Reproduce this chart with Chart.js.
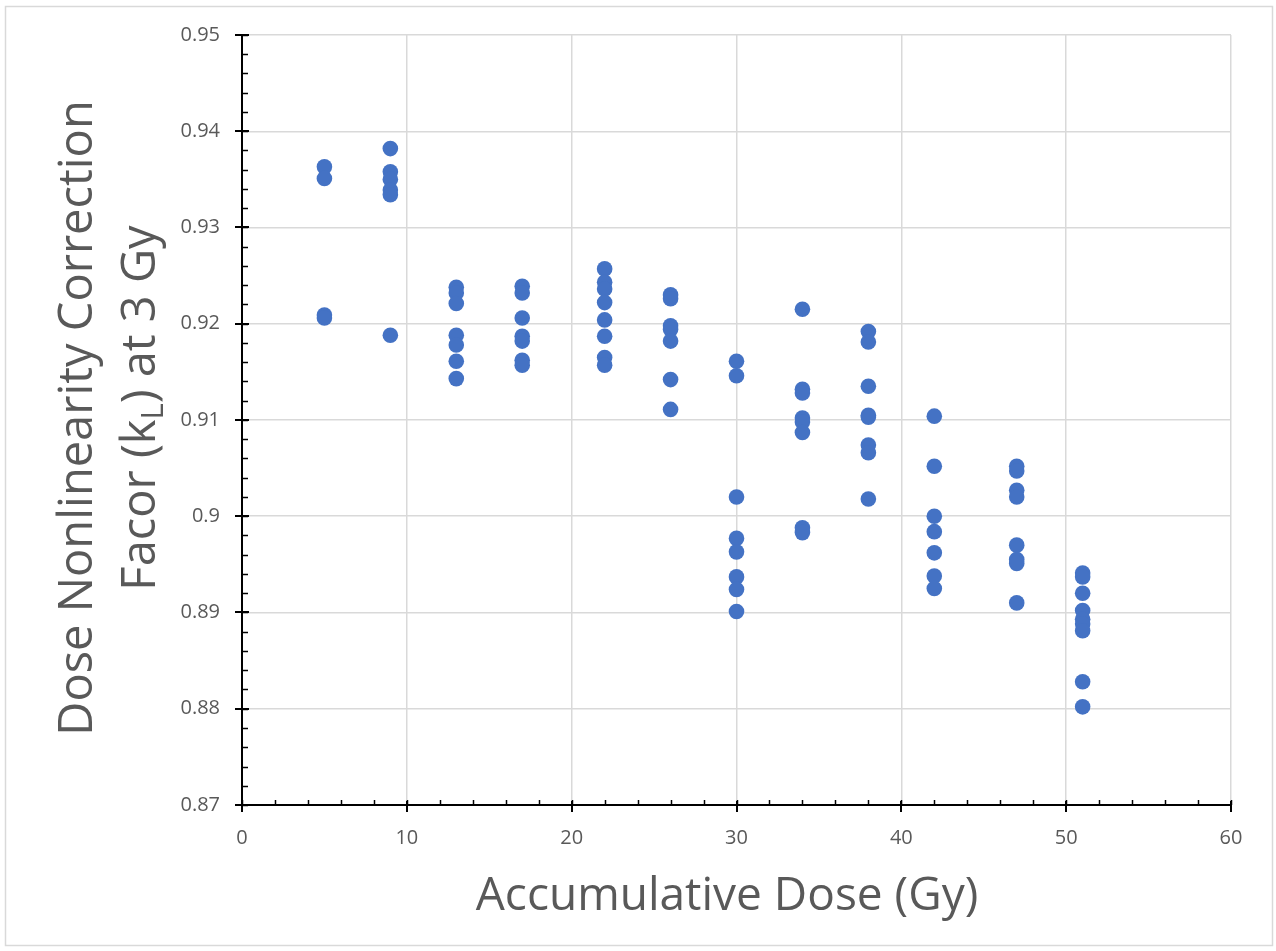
<!DOCTYPE html>
<html>
<head>
<meta charset="utf-8">
<script src="https://cdn.jsdelivr.net/npm/chart.js@4.4.1/dist/chart.umd.min.js"></script>
<style>
  html, body { margin: 0; padding: 0; background: #ffffff; }
  #wrap { width: 1276px; height: 951px; position: relative; }
</style>
</head>
<body>
<div id="wrap"><canvas id="c" width="1276" height="951"></canvas></div>
<script>
// ---- data ----
const doses = [5, 9, 13, 17, 22, 26, 30, 34, 38, 42, 47, 51];
const kL5  = [0.9363, 0.9351, 0.9209, 0.9206];
const kL9  = [0.9382, 0.9358, 0.9350, 0.9339, 0.9334, 0.9188];
const kL13 = [0.9238, 0.9232, 0.9221, 0.9188, 0.9178, 0.9161, 0.9143];
const kL17 = [0.9239, 0.9232, 0.9206, 0.9187, 0.9182, 0.9162, 0.9157];
const kL22 = [0.9257, 0.9243, 0.9236, 0.9222, 0.9204, 0.9187, 0.9165, 0.9157];
const kL26 = [0.9230, 0.9226, 0.9198, 0.9194, 0.9182, 0.9142, 0.9111];
const kL30 = [0.9161, 0.9146, 0.9020, 0.8977, 0.8963, 0.8937, 0.8924, 0.8901];
const kL34 = [0.9215, 0.9132, 0.9128, 0.9102, 0.9098, 0.9087, 0.8988, 0.8983];
const kL38 = [0.9192, 0.9181, 0.9135, 0.9105, 0.9103, 0.9074, 0.9066, 0.9018];
const kL42 = [0.9104, 0.9052, 0.9000, 0.8984, 0.8962, 0.8938, 0.8925];
const kL47 = [0.9052, 0.9047, 0.9027, 0.9020, 0.8970, 0.8955, 0.8951, 0.8910];
const kL51 = [0.8941, 0.8937, 0.8920, 0.8902, 0.8893, 0.8888, 0.8881, 0.8828, 0.8802];
const kLByDose = [kL5, kL9, kL13, kL17, kL22, kL26, kL30, kL34, kL38, kL42, kL47, kL51];

const xTickValues = [0, 10, 20, 30, 40, 50, 60];
const yTickValues = [0.87, 0.88, 0.89, 0.90, 0.91, 0.92, 0.93, 0.94, 0.95];
const xTitle = 'Accumulative Dose (Gy)';
const yTitleLine1 = 'Dose Nonlinearity Correction';
const yTitleLine2 = ['Facor (k', 'L', ') at 3 Gy'];

const points = [];
doses.forEach((d, i) => kLByDose[i].forEach(v => points.push({ x: d, y: v })));

const FONT = "'Open Sans', 'Noto Sans', sans-serif";
const TEXT = '#595959';

const decorPlugin = {
  id: 'decor',
  beforeDraw(chart) {
    const ctx = chart.ctx;
    ctx.save();
    ctx.fillStyle = '#ffffff';
    ctx.fillRect(0, 0, chart.width, chart.height);
    ctx.strokeStyle = '#d9d9d9';
    ctx.lineWidth = 1.5;
    ctx.strokeRect(5.5, 6.5, 1267, 939);
    ctx.restore();
  },
  afterDraw(chart) {
    const ctx = chart.ctx;
    const xs = chart.scales.x, ys = chart.scales.y;
    const a = chart.chartArea;
    ctx.save();
    ctx.strokeStyle = '#000000';
    ctx.lineWidth = 1.5;
    // minor ticks (inside)
    for (let v = 0; v <= 60.001; v += 2) {
      const px = Math.round(xs.getPixelForValue(v)) + 0.5;
      ctx.beginPath(); ctx.moveTo(px, a.bottom); ctx.lineTo(px, a.bottom - 5); ctx.stroke();
    }
    for (let v = 0.87; v <= 0.9501; v += 0.002) {
      const py = Math.round(ys.getPixelForValue(v)) + 0.5;
      ctx.beginPath(); ctx.moveTo(a.left, py); ctx.lineTo(a.left + 6, py); ctx.stroke();
    }
    // major ticks (cross)
    ctx.lineWidth = 2;
    xTickValues.forEach(v => {
      const px = Math.round(xs.getPixelForValue(v));
      ctx.beginPath(); ctx.moveTo(px, a.bottom - 4); ctx.lineTo(px, a.bottom + 7); ctx.stroke();
    });
    yTickValues.forEach(v => {
      const py = Math.round(ys.getPixelForValue(v));
      ctx.beginPath(); ctx.moveTo(a.left - 7, py); ctx.lineTo(a.left + 7, py); ctx.stroke();
    });

    // x title
    ctx.fillStyle = TEXT;
    ctx.font = '46px ' + FONT;
    ctx.textAlign = 'center';
    ctx.textBaseline = 'alphabetic';
    ctx.fillText(xTitle, 727, 910);

    // y title (rotated, two lines, subscript)
    ctx.textAlign = 'left';
    const big = '47px ' + FONT, small = '31px ' + FONT;
    // line 1
    ctx.save();
    ctx.translate(92, 418);
    ctx.rotate(-Math.PI / 2);
    ctx.font = big;
    const w1 = ctx.measureText(yTitleLine1).width;
    ctx.fillText(yTitleLine1, -w1 / 2, 0);
    ctx.restore();
    // line 2
    ctx.save();
    ctx.translate(155, 408);
    ctx.rotate(-Math.PI / 2);
    ctx.font = big;
    const wa = ctx.measureText(yTitleLine2[0]).width;
    const wc = ctx.measureText(yTitleLine2[2]).width;
    ctx.font = small;
    const wb = ctx.measureText(yTitleLine2[1]).width;
    let x0 = -(wa + wb + wc) / 2;
    ctx.font = big;
    ctx.fillText(yTitleLine2[0], x0, 0);
    ctx.font = small;
    ctx.fillText(yTitleLine2[1], x0 + wa, 8);
    ctx.font = big;
    ctx.fillText(yTitleLine2[2], x0 + wa + wb, 0);
    ctx.restore();

    ctx.restore();
  }
};

new Chart(document.getElementById('c'), {
  type: 'scatter',
  data: {
    datasets: [{
      data: points,
      backgroundColor: '#4472C4',
      borderWidth: 0,
      pointRadius: 7.8,
      pointHoverRadius: 7.8
    }]
  },
  options: {
    responsive: false,
    animation: false,
    devicePixelRatio: 1,
    layout: { padding: { left: 0, right: 45, top: 35, bottom: 0 } },
    plugins: { legend: { display: false }, tooltip: { enabled: false } },
    scales: {
      x: {
        type: 'linear',
        min: 0, max: 60,
        afterBuildTicks: s => { s.ticks = xTickValues.map(v => ({ value: v })); },
        afterFit: s => { s.height = 146; },
        grid: { color: '#d9d9d9', lineWidth: 1.5, drawTicks: false },
        border: { display: true, color: '#000000', width: 2 },
        ticks: {
          padding: 21,
          color: TEXT,
          font: { family: FONT, size: 20 },
          callback: v => String(v)
        }
      },
      y: {
        type: 'linear',
        min: 0.87, max: 0.95,
        afterBuildTicks: s => { s.ticks = yTickValues.map(v => ({ value: v })); },
        afterFit: s => { s.width = 242; },
        grid: { color: '#d9d9d9', lineWidth: 1.5, drawTicks: false },
        border: { display: true, color: '#000000', width: 2 },
        ticks: {
          padding: 22,
          color: TEXT,
          font: { family: FONT, size: 20 },
          callback: v => String(Number(v.toFixed(2)))
        }
      }
    }
  },
  plugins: [decorPlugin]
});
</script>
</body>
</html>
